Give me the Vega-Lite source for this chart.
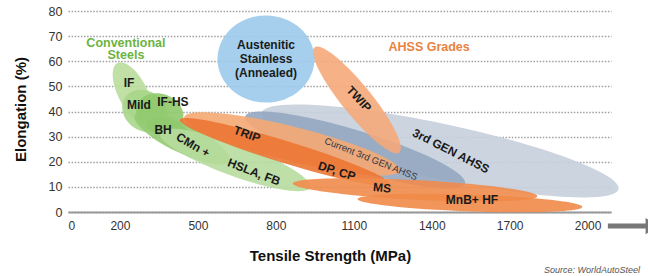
{
  "$schema": "https://vega.github.io/schema/vega-lite/v6.json",
  "width": 543,
  "height": 201,
  "autosize": {"type": "none"},
  "padding": {"left": 68, "top": 11, "right": 37, "bottom": 64},
  "background": "white",
  "config": {
    "font": "Liberation Sans",
    "view": {"stroke": null},
    "axis": {"ticks": false, "tickSize": 0, "labelFont": "Liberation Sans", "titleFont": "Liberation Sans", "labelOverlap": false}
  },
  "title": {
    "text": "Source: WorldAutoSteel",
    "orient": "bottom",
    "anchor": "end",
    "frame": "group",
    "align": "right",
    "font": "Liberation Sans",
    "fontSize": 9,
    "fontStyle": "italic",
    "fontWeight": "normal",
    "color": "#555555",
    "offset": 3,
    "dx": 29
  },
  "resolve": {"scale": {"color": "independent", "angle": "independent", "shape": "independent", "size": "independent"}},
  "datasets": {
    "regions": [
      {"grade": "IF", "strength": 250, "elong": 47.2, "span": 262, "tilt": 63},
      {"grade": "Mild", "strength": 296, "elong": 40.2, "span": 185, "tilt": 35},
      {"grade": "IF-HS", "strength": 354, "elong": 39.4, "span": 185, "tilt": 20},
      {"grade": "BH", "strength": 381, "elong": 33.4, "span": 162, "tilt": 15},
      {"grade": "CMn", "strength": 439, "elong": 29.5, "span": 404, "tilt": 26},
      {"grade": "HSLA", "strength": 643, "elong": 20.7, "span": 616, "tilt": 20},
      {"grade": "3rdGEN", "strength": 1432, "elong": 24.3, "span": 1405, "tilt": 12},
      {"grade": "Current3rd", "strength": 1105, "elong": 24.7, "span": 885, "tilt": 17},
      {"grade": "TRIP", "strength": 862, "elong": 27.1, "span": 855, "tilt": 14},
      {"grade": "DPCP", "strength": 835, "elong": 23.9, "span": 847, "tilt": 17},
      {"grade": "MS", "strength": 1336, "elong": 8.8, "span": 943, "tilt": 3},
      {"grade": "MnB", "strength": 1547, "elong": 3.6, "span": 866, "tilt": 2},
      {"grade": "TWIP", "strength": 1112, "elong": 44.6, "span": 520, "tilt": 51},
      {"grade": "Austenitic", "strength": 762, "elong": 60.9, "span": 373, "tilt": 0}
    ],
    "labels": [
      {"text": "Austenitic", "strength": 762, "elong": 66.5, "rot": 0},
      {"text": "Stainless", "strength": 762, "elong": 60.9, "rot": 0},
      {"text": "(Annealed)", "strength": 762, "elong": 55.3, "rot": 0},
      {"text": "IF", "strength": 235, "elong": 51.3, "rot": 0},
      {"text": "Mild", "strength": 273, "elong": 42.6, "rot": 0},
      {"text": "IF-HS", "strength": 404, "elong": 43.8, "rot": 0},
      {"text": "BH", "strength": 366, "elong": 32.6, "rot": 0},
      {"text": "CMn +", "strength": 481, "elong": 26.7, "rot": 30},
      {"text": "HSLA, FB", "strength": 716, "elong": 15.9, "rot": 21},
      {"text": "TRIP", "strength": 689, "elong": 31.0, "rot": 20},
      {"text": "DP, CP", "strength": 1035, "elong": 16.3, "rot": 18},
      {"text": "MS", "strength": 1209, "elong": 9.6, "rot": 5},
      {"text": "MnB+ HF", "strength": 1555, "elong": 4.8, "rot": 0},
      {"text": "TWIP", "strength": 1120, "elong": 45.0, "rot": 47},
      {"text": "3rd GEN AHSS", "strength": 1474, "elong": 24.3, "rot": 27}
    ],
    "notes": [
      {"text": "Current 3rd GEN AHSS", "strength": 1166, "elong": 21.1, "rot": 22}
    ],
    "groups": [
      {"text": "Conventional", "family": "Conventional", "strength": 223, "elong": 67.4},
      {"text": "Steels", "family": "Conventional", "strength": 223, "elong": 62.4},
      {"text": "AHSS Grades", "family": "AHSS", "strength": 1390, "elong": 65.7}
    ]
  },
  "layer": [
    {
      "data": {"name": "regions"},
      "mark": {"type": "point", "filled": true, "opacity": 0.9, "strokeWidth": 0},
      "encoding": {
        "x": {
          "field": "strength", "type": "quantitative",
          "scale": {"domain": [0, 2090], "nice": false, "zero": false},
          "axis": {
            "values": [0, 200, 500, 800, 1100, 1400, 1700, 2000],
            "tickCount": 30,
            "format": "d",
            "title": "Tensile Strength (MPa)",
            "titleFontSize": 15, "titleFontWeight": "bold", "titleColor": "#111111",
            "titleX": 262, "titleY": 48, "titleBaseline": "alphabetic", "titleAlign": "center",
            "labelFontSize": 12, "labelColor": "#333333", "labelPadding": 8, "labelOverlap": false,
            "grid": false, "domain": true, "domainColor": "#999999", "domainWidth": 2
          }
        },
        "y": {
          "field": "elong", "type": "quantitative",
          "scale": {"domain": [0, 80], "nice": false},
          "axis": {
            "values": [0, 10, 20, 30, 40, 50, 60, 70, 80],
            "tickCount": 30,
            "format": "d",
            "title": "Elongation (%)",
            "titleFontSize": 15, "titleFontWeight": "bold", "titleColor": "#111111",
            "titleX": -43, "titleY": 98, "titleBaseline": "alphabetic", "titleAlign": "center", "titleAngle": -90,
            "labelFontSize": 12.5, "labelColor": "#333333", "labelPadding": 6, "labelOverlap": false,
            "domain": false,
            "grid": true, "gridColor": "#a0a0a0", "gridDash": [1.5, 1.6], "gridWidth": 1.5
          }
        },
        "size": {
          "field": "span", "type": "quantitative",
          "scale": {"type": "pow", "exponent": 2, "domain": [0, 2090], "range": [0, 294849]},
          "legend": null
        },
        "angle": {"field": "tilt", "type": "quantitative", "scale": null},
        "shape": {
          "field": "grade", "type": "nominal", "legend": null,
          "scale": {
            "domain": ["IF", "Mild", "IF-HS", "BH", "CMn", "HSLA", "3rdGEN", "Current3rd", "TRIP", "DPCP", "MS", "MnB", "TWIP", "Austenitic"],
            "range": [
              "M -1 0 C -1 -0.2375 -0.5523 -0.43 0 -0.43 C 0.5523 -0.43 1 -0.2375 1 0 C 1 0.2375 0.5523 0.43 0 0.43 C -0.5523 0.43 -1 0.2375 -1 0 Z",
              "M -1 0 C -1 -0.4529 -0.5523 -0.82 0 -0.82 C 0.5523 -0.82 1 -0.4529 1 0 C 1 0.4529 0.5523 0.82 0 0.82 C -0.5523 0.82 -1 0.4529 -1 0 Z",
              "M -1 0 C -1 -0.4418 -0.5523 -0.8 0 -0.8 C 0.5523 -0.8 1 -0.4418 1 0 C 1 0.4418 0.5523 0.8 0 0.8 C -0.5523 0.8 -1 0.4418 -1 0 Z",
              "M -1 0 C -1 -0.2485 -0.5523 -0.45 0 -0.45 C 0.5523 -0.45 1 -0.2485 1 0 C 1 0.2485 0.5523 0.45 0 0.45 C -0.5523 0.45 -1 0.2485 -1 0 Z",
              "M -1 0 C -1 -0.1546 -0.5523 -0.28 0 -0.28 C 0.5523 -0.28 1 -0.1546 1 0 C 1 0.1546 0.5523 0.28 0 0.28 C -0.5523 0.28 -1 0.1546 -1 0 Z",
              "M -1 0 C -1 -0.1105 -0.5523 -0.2 0 -0.2 C 0.5523 -0.2 1 -0.1105 1 0 C 1 0.1105 0.5523 0.2 0 0.2 C -0.5523 0.2 -1 0.1105 -1 0 Z",
              "M -1 0 C -1 -0.0828 -0.5523 -0.15 0 -0.15 C 0.5523 -0.15 1 -0.0828 1 0 C 1 0.0828 0.5523 0.15 0 0.15 C -0.5523 0.15 -1 0.0828 -1 0 Z",
              "M -1 0 C -1 -0.0939 -0.5523 -0.17 0 -0.17 C 0.5523 -0.17 1 -0.0939 1 0 C 1 0.0939 0.5523 0.17 0 0.17 C -0.5523 0.17 -1 0.0939 -1 0 Z",
              "M -1 0 C -1 -0.0856 -0.5523 -0.155 0 -0.155 C 0.5523 -0.155 1 -0.0856 1 0 C 1 0.0856 0.5523 0.155 0 0.155 C -0.5523 0.155 -1 0.0856 -1 0 Z",
              "M -1 0 C -1 -0.0552 -0.5523 -0.1 0 -0.1 C 0.5523 -0.1 1 -0.0552 1 0 C 1 0.0552 0.5523 0.1 0 0.1 C -0.5523 0.1 -1 0.0552 -1 0 Z",
              "M -1 0 C -1 -0.0442 -0.5523 -0.08 0 -0.08 C 0.5523 -0.08 1 -0.0442 1 0 C 1 0.0442 0.5523 0.08 0 0.08 C -0.5523 0.08 -1 0.0442 -1 0 Z",
              "M -1 0 C -1 -0.0414 -0.5523 -0.075 0 -0.075 C 0.5523 -0.075 1 -0.0414 1 0 C 1 0.0414 0.5523 0.075 0 0.075 C -0.5523 0.075 -1 0.0414 -1 0 Z",
              "M -1 0 C -1 -0.1215 -0.5523 -0.22 0 -0.22 C 0.5523 -0.22 1 -0.1215 1 0 C 1 0.1215 0.5523 0.22 0 0.22 C -0.5523 0.22 -1 0.1215 -1 0 Z",
              "M -1 0 C -1 -0.4971 -0.5523 -0.9 0 -0.9 C 0.5523 -0.9 1 -0.4971 1 0 C 1 0.4971 0.5523 0.9 0 0.9 C -0.5523 0.9 -1 0.4971 -1 0 Z"
            ]
          }
        },
        "color": {
          "field": "grade", "type": "nominal", "legend": null,
          "scale": {
            "domain": ["IF", "Mild", "IF-HS", "BH", "CMn", "HSLA", "3rdGEN", "Current3rd", "TRIP", "DPCP", "MS", "MnB", "TWIP", "Austenitic"],
            "range": ["#b9dd9c", "#a8d689", "#8fc96b", "#70b649", "#93cb72", "#b7dc9d", "#c6cfdb", "#95a7c0", "#f5a873", "#ec7533", "#f08c4c", "#f08a48", "#f5a97a", "#9ccaec"]
          }
        }
      }
    },
    {
      "data": {"name": "labels"},
      "mark": {"type": "text", "font": "Liberation Sans", "fontSize": 12, "fontWeight": "bold", "color": "#1a1a1a", "align": "center", "baseline": "middle"},
      "encoding": {
        "x": {"field": "strength", "type": "quantitative"},
        "y": {"field": "elong", "type": "quantitative"},
        "text": {"field": "text"},
        "angle": {"field": "rot", "type": "quantitative", "scale": null}
      }
    },
    {
      "data": {"name": "notes"},
      "mark": {"type": "text", "font": "Liberation Sans", "fontSize": 9.5, "fontWeight": "normal", "color": "#2b3545", "align": "center", "baseline": "middle"},
      "encoding": {
        "x": {"field": "strength", "type": "quantitative"},
        "y": {"field": "elong", "type": "quantitative"},
        "text": {"field": "text"},
        "angle": {"field": "rot", "type": "quantitative", "scale": null}
      }
    },
    {
      "data": {"name": "groups"},
      "mark": {"type": "text", "font": "Liberation Sans", "fontSize": 12.5, "fontWeight": "bold", "align": "center", "baseline": "middle"},
      "encoding": {
        "x": {"field": "strength", "type": "quantitative"},
        "y": {"field": "elong", "type": "quantitative"},
        "text": {"field": "text"},
        "color": {
          "field": "family", "type": "nominal", "legend": null,
          "scale": {"domain": ["Conventional", "AHSS"], "range": ["#6db33f", "#e8843f"]}
        }
      }
    },
    {
      "data": {"values": [{}]},
      "mark": {"type": "rule", "color": "#777777", "strokeWidth": 5},
      "encoding": {
        "x": {"datum": 2078, "type": "quantitative"},
        "x2": {"datum": 2228},
        "y": {"datum": -5.6, "type": "quantitative"}
      }
    },
    {
      "data": {"values": [{}]},
      "mark": {"type": "point", "shape": "triangle-right", "filled": true, "opacity": 1, "color": "#777777", "size": 260},
      "encoding": {
        "x": {"datum": 2250, "type": "quantitative"},
        "y": {"datum": -5.6, "type": "quantitative"}
      }
    }
  ]
}
